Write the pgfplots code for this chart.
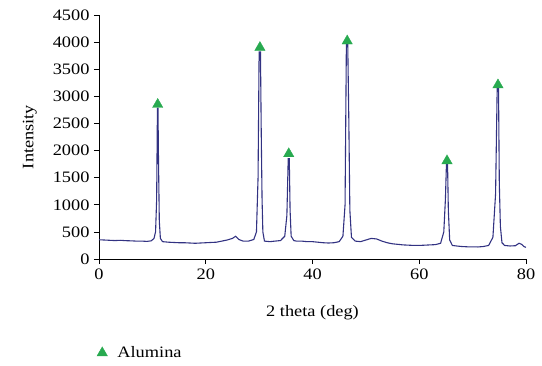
\documentclass[border=0pt]{standalone}
\usepackage{pgfplots}
\pgfplotsset{compat=1.18}
\usepackage{fontspec}
\setmainfont{Liberation Serif}[FakeStretch=1.15]
\definecolor{xrd}{RGB}{50,50,130}
\definecolor{alu}{RGB}{40,170,80}
\begin{document}
\begin{tikzpicture}
\begin{axis}[
  name=main,
  scale only axis,
  width=427bp, height=244bp,
  xmin=0, xmax=80, ymin=0, ymax=4500,
  xtick={0,20,40,60,80},
  ytick={0,500,1000,1500,2000,2500,3000,3500,4000,4500},
  axis lines=left,
  axis line style={-, line width=0.7pt},
  tick style={black, line width=0.7pt},
  tick align=outside,
  major tick length=5bp,
  xlabel={2 theta (deg)},
  ylabel={Intensity},
  xlabel style={at={(axis description cs:0.5,-0.221)}, anchor=center},
  ylabel style={at={(axis description cs:-0.162,0.5)}, anchor=center, rotate=0},
  /pgf/number format/assume math mode=true,
  yticklabel style={/pgf/number format/1000 sep={}, xshift=-1bp},
  xticklabel style={yshift=-1bp},
  ticklabel style={font=\fontsize{16}{18}\selectfont},
  label style={font=\fontsize{16}{18}\selectfont},
  legend style={draw=none, fill=none, at={(axis description cs:-0.005,-0.35)}, anchor=north west, font=\fontsize{16}{18}\selectfont, inner sep=0pt},
  legend cell align=left,
  clip=false,
]
\addplot[xrd, line width=1.1pt, forget plot] coordinates {
(0,355) (1,350) (2,345) (3,340) (4,345) (5,338) (6,335) (7,330) (8,330) (9,325) (9.8,335) (10.3,380) (10.6,500) (10.8,1100) (10.95,2780) (11.05,2780) (11.15,1800) (11.3,700) (11.5,380) (11.9,320)
(13,310) (14,305) (15,300) (16,300) (17,295) (18,290) (19,295) (20,300) (21,305) (22,310) (23,330) (24,350) (25,380) (25.6,420) (26.2,360) (27,330) (28,330) (29,360) (29.5,500) (29.8,1500) (30.0,3820) (30.25,3820) (30.4,2300) (30.55,1100) (30.7,500) (31,330)
(32,320) (33,330) (34,340) (34.8,420) (35.2,800) (35.45,1850) (35.65,1850) (35.8,900) (36.0,420) (36.5,340) (37,330) (38,330) (39,320) (40,320) (41,310) (42,300) (43,295) (44,300) (45,320) (45.7,420) (46.1,1000) (46.35,3990) (46.6,3990) (46.8,2600) (47,900) (47.3,400) (48,330)
(49,320) (50,350) (51,380) (52,370) (53,330) (54,300) (55,280) (56,270) (57,260) (58,255) (59,250) (60,250) (61,255) (62,260) (63,265) (64,290) (64.6,500) (64.9,1100) (65.1,1770) (65.3,1770) (65.45,900) (65.7,350) (66.2,250)
(67,240) (68,230) (69,225) (70,225) (71,222) (72,230) (73,250) (73.8,400) (74.3,1200) (74.6,3150) (74.85,3150) (75.0,1400) (75.2,600) (75.5,300) (76,250) (77,240) (78,245) (78.7,290) (79.2,270) (79.6,230) (80,215)
};
\addplot[only marks, mark=triangle*, mark size=6pt, mark options={fill=alu, draw=alu}] coordinates {
(11,2850) (30.15,3900) (35.55,1940) (46.5,4020) (65.2,1810) (74.75,3210)
};
\addlegendentry{\hspace{8bp}Alumina}
\end{axis}
\pgfresetboundingbox
\path (main.south west) ++(-99bp,-107bp) rectangle ++(542bp,366bp);
\end{tikzpicture}
\end{document}
